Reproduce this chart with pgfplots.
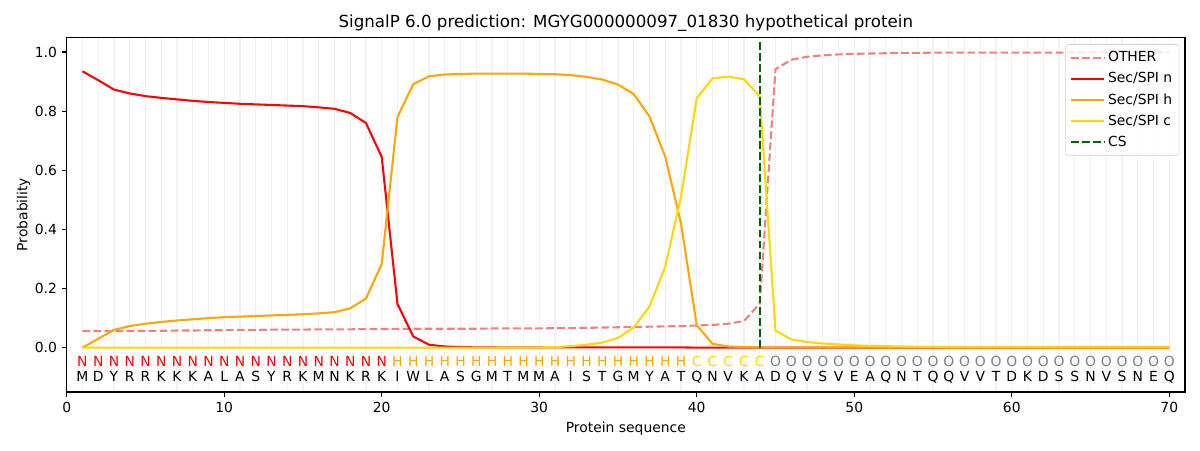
\documentclass[border=0pt]{standalone}
\usepackage{fontspec}
\setmainfont{DejaVu Sans}
\usepackage{pgfplots}
\pgfplotsset{compat=1.18}
\definecolor{lightcoral}{HTML}{F08080}
\definecolor{mplred}{HTML}{FF0000}
\definecolor{mplorange}{HTML}{FFA500}
\definecolor{mplgold}{HTML}{FFD700}
\definecolor{mplgreen}{HTML}{006400}
\definecolor{mplgray}{HTML}{808080}

\pgfplotstableread{
x other n h c
1 0.056 0.935 0.000 0.000
2 0.056 0.905 0.030 0.000
3 0.056 0.873 0.060 0.000
4 0.057 0.860 0.073 0.000
5 0.057 0.851 0.081 0.000
6 0.057 0.845 0.087 0.000
7 0.058 0.840 0.092 0.000
8 0.058 0.835 0.096 0.000
9 0.059 0.831 0.100 0.000
10 0.059 0.828 0.103 0.000
11 0.060 0.825 0.105 0.000
12 0.060 0.823 0.107 0.000
13 0.061 0.821 0.109 0.000
14 0.061 0.819 0.111 0.000
15 0.061 0.817 0.113 0.000
16 0.062 0.813 0.116 0.000
17 0.062 0.808 0.120 0.000
18 0.062 0.794 0.133 0.000
19 0.063 0.760 0.166 0.000
20 0.063 0.645 0.283 0.000
21 0.063 0.148 0.780 0.000
22 0.064 0.038 0.891 0.000
23 0.064 0.010 0.918 0.000
24 0.064 0.004 0.924 0.000
25 0.064 0.002 0.926 0.000
26 0.064 0.001 0.927 0.000
27 0.065 0.001 0.927 0.000
28 0.065 0.001 0.927 0.001
29 0.065 0.001 0.927 0.001
30 0.065 0.001 0.926 0.001
31 0.066 0.001 0.925 0.002
32 0.066 0.001 0.922 0.005
33 0.067 0.001 0.916 0.010
34 0.068 0.001 0.907 0.017
35 0.069 0.001 0.890 0.033
36 0.070 0.001 0.858 0.068
37 0.071 0.001 0.782 0.139
38 0.072 0.001 0.646 0.274
39 0.073 0.001 0.420 0.510
40 0.075 0.000 0.076 0.844
41 0.077 0.000 0.013 0.911
42 0.081 0.000 0.004 0.917
43 0.090 0.000 0.002 0.908
44 0.149 0.000 0.001 0.850
45 0.942 0.000 0.001 0.058
46 0.974 0.000 0.001 0.028
47 0.984 0.000 0.001 0.019
48 0.989 0.000 0.001 0.014
49 0.992 0.000 0.001 0.011
50 0.994 0.000 0.001 0.008
51 0.995 0.000 0.001 0.006
52 0.996 0.000 0.001 0.005
53 0.997 0.000 0.001 0.004
54 0.997 0.000 0.001 0.003
55 0.998 0.000 0.001 0.003
56 0.998 0.000 0.001 0.002
57 0.998 0.000 0.001 0.002
58 0.998 0.000 0.001 0.002
59 0.998 0.000 0.001 0.002
60 0.998 0.000 0.001 0.002
61 0.998 0.000 0.001 0.002
62 0.998 0.000 0.001 0.002
63 0.998 0.000 0.001 0.001
64 0.999 0.000 0.001 0.001
65 0.999 0.000 0.001 0.001
66 0.999 0.000 0.001 0.001
67 0.999 0.000 0.001 0.001
68 0.999 0.000 0.001 0.001
69 0.999 0.000 0.001 0.001
70 0.999 0.000 0.001 0.001
}\probs

\begin{document}
\begin{tikzpicture}
\useasboundingbox (-48.02pt,-41.76pt) rectangle (815.98pt,282.24pt);
\begin{axis}[
  at={(0,0)}, anchor=south west,
  scale only axis, width=805.2pt, height=255.4pt,
  xmin=0, xmax=71, ymin=-0.15, ymax=1.05,
  xtick={0,10,...,70}, ytick={0,0.2,0.4,0.6,0.8,1.0},
  minor xtick={1,...,70},
  xminorgrids, minor grid style={gray!10, line width=1pt},
  minor tick length=0pt,
  tick align=outside, major tick length=3.5pt,
  xtick pos=bottom, ytick pos=left,
  every tick/.style={black, line width=0.8pt},
  axis line style={black, line width=0.8pt},
  /pgf/number format/assume math mode=true,
  yticklabel style={/pgf/number format/.cd, fixed, fixed zerofill, precision=1},
  xticklabel style={/pgf/number format/.cd, fixed},
  tick label style={font=\fontsize{10}{12}\selectfont},
  label style={font=\fontsize{10}{12}\selectfont},
  ylabel style={xshift=0pt, yshift=-3.6pt},
  title={SignalP 6.0 prediction: MGYG000000097\_01830 hypothetical protein},
  title style={font=\fontsize{12}{14}\selectfont, yshift=-5.5pt},
  xlabel={Protein sequence}, ylabel={Probability},
  legend cell align=left,
  legend style={at={(1,1)}, anchor=north east, xshift=-4pt, yshift=-5pt,
    draw=gray!35, rounded corners=2pt, fill=white, fill opacity=0.8, text opacity=1,
    font=\fontsize{10}{12}\selectfont,
    nodes={inner ysep=3.1pt}},
  legend image code/.code={\draw[#1] (0pt,0pt) -- (21pt,0pt); \path (0pt,0pt) -- (24pt,0pt);},
]
\addplot[lightcoral, line width=1.5pt, dash pattern=on 5.55pt off 2.4pt] table[x=x, y=other] {\probs};
\addlegendentry{OTHER}
\addplot[mplred, line width=1.5pt] table[x=x, y=n] {\probs};
\addlegendentry{Sec/SPI n}
\addplot[mplorange, line width=1.5pt] table[x=x, y=h] {\probs};
\addlegendentry{Sec/SPI h}
\addplot[mplgold, line width=1.5pt] table[x=x, y=c] {\probs};
\addlegendentry{Sec/SPI c}
\addplot[mplgreen, line width=1.5pt, dash pattern=on 5.55pt off 2.4pt] coordinates {(44,0) (44,1.035)};
\addlegendentry{CS}

\pgfplotsset{labelrow/.style={forget plot, draw=none, mark=none, nodes near coords, point meta=explicit symbolic,
  nodes near coords style={anchor=base, inner sep=0pt, text=#1, font=\fontsize{10}{12}\selectfont}}}
\addplot[labelrow=mplred] coordinates {
(1,-0.0634)[N] (2,-0.0634)[N] (3,-0.0634)[N] (4,-0.0634)[N] (5,-0.0634)[N]
(6,-0.0634)[N] (7,-0.0634)[N] (8,-0.0634)[N] (9,-0.0634)[N] (10,-0.0634)[N]
(11,-0.0634)[N] (12,-0.0634)[N] (13,-0.0634)[N] (14,-0.0634)[N] (15,-0.0634)[N]
(16,-0.0634)[N] (17,-0.0634)[N] (18,-0.0634)[N] (19,-0.0634)[N] (20,-0.0634)[N]
};
\addplot[labelrow=mplorange] coordinates {
(21,-0.0634)[H] (22,-0.0634)[H] (23,-0.0634)[H] (24,-0.0634)[H] (25,-0.0634)[H]
(26,-0.0634)[H] (27,-0.0634)[H] (28,-0.0634)[H] (29,-0.0634)[H] (30,-0.0634)[H]
(31,-0.0634)[H] (32,-0.0634)[H] (33,-0.0634)[H] (34,-0.0634)[H] (35,-0.0634)[H]
(36,-0.0634)[H] (37,-0.0634)[H] (38,-0.0634)[H] (39,-0.0634)[H]
};
\addplot[labelrow=mplgold] coordinates {
(40,-0.0634)[C] (41,-0.0634)[C] (42,-0.0634)[C] (43,-0.0634)[C] (44,-0.0634)[C]
};
\addplot[labelrow=mplgray] coordinates {
(45,-0.0634)[O] (46,-0.0634)[O] (47,-0.0634)[O] (48,-0.0634)[O] (49,-0.0634)[O]
(50,-0.0634)[O] (51,-0.0634)[O] (52,-0.0634)[O] (53,-0.0634)[O] (54,-0.0634)[O]
(55,-0.0634)[O] (56,-0.0634)[O] (57,-0.0634)[O] (58,-0.0634)[O] (59,-0.0634)[O]
(60,-0.0634)[O] (61,-0.0634)[O] (62,-0.0634)[O] (63,-0.0634)[O] (64,-0.0634)[O]
(65,-0.0634)[O] (66,-0.0634)[O] (67,-0.0634)[O] (68,-0.0634)[O] (69,-0.0634)[O]
(70,-0.0634)[O]
};
\addplot[labelrow=black] coordinates {
(1,-0.113)[M] (2,-0.113)[D] (3,-0.113)[Y] (4,-0.113)[R] (5,-0.113)[R]
(6,-0.113)[K] (7,-0.113)[K] (8,-0.113)[K] (9,-0.113)[A] (10,-0.113)[L]
(11,-0.113)[A] (12,-0.113)[S] (13,-0.113)[Y] (14,-0.113)[R] (15,-0.113)[K]
(16,-0.113)[M] (17,-0.113)[N] (18,-0.113)[K] (19,-0.113)[R] (20,-0.113)[K]
(21,-0.113)[I] (22,-0.113)[W] (23,-0.113)[L] (24,-0.113)[A] (25,-0.113)[S]
(26,-0.113)[G] (27,-0.113)[M] (28,-0.113)[T] (29,-0.113)[M] (30,-0.113)[M]
(31,-0.113)[A] (32,-0.113)[I] (33,-0.113)[S] (34,-0.113)[T] (35,-0.113)[G]
(36,-0.113)[M] (37,-0.113)[Y] (38,-0.113)[A] (39,-0.113)[T] (40,-0.113)[Q]
(41,-0.113)[N] (42,-0.113)[V] (43,-0.113)[K] (44,-0.113)[A] (45,-0.113)[D]
(46,-0.113)[Q] (47,-0.113)[V] (48,-0.113)[S] (49,-0.113)[V] (50,-0.113)[E]
(51,-0.113)[A] (52,-0.113)[Q] (53,-0.113)[N] (54,-0.113)[T] (55,-0.113)[Q]
(56,-0.113)[Q] (57,-0.113)[V] (58,-0.113)[V] (59,-0.113)[T] (60,-0.113)[D]
(61,-0.113)[K] (62,-0.113)[D] (63,-0.113)[S] (64,-0.113)[S] (65,-0.113)[N]
(66,-0.113)[V] (67,-0.113)[S] (68,-0.113)[N] (69,-0.113)[E] (70,-0.113)[Q]
};
\end{axis}
\end{tikzpicture}
\end{document}
